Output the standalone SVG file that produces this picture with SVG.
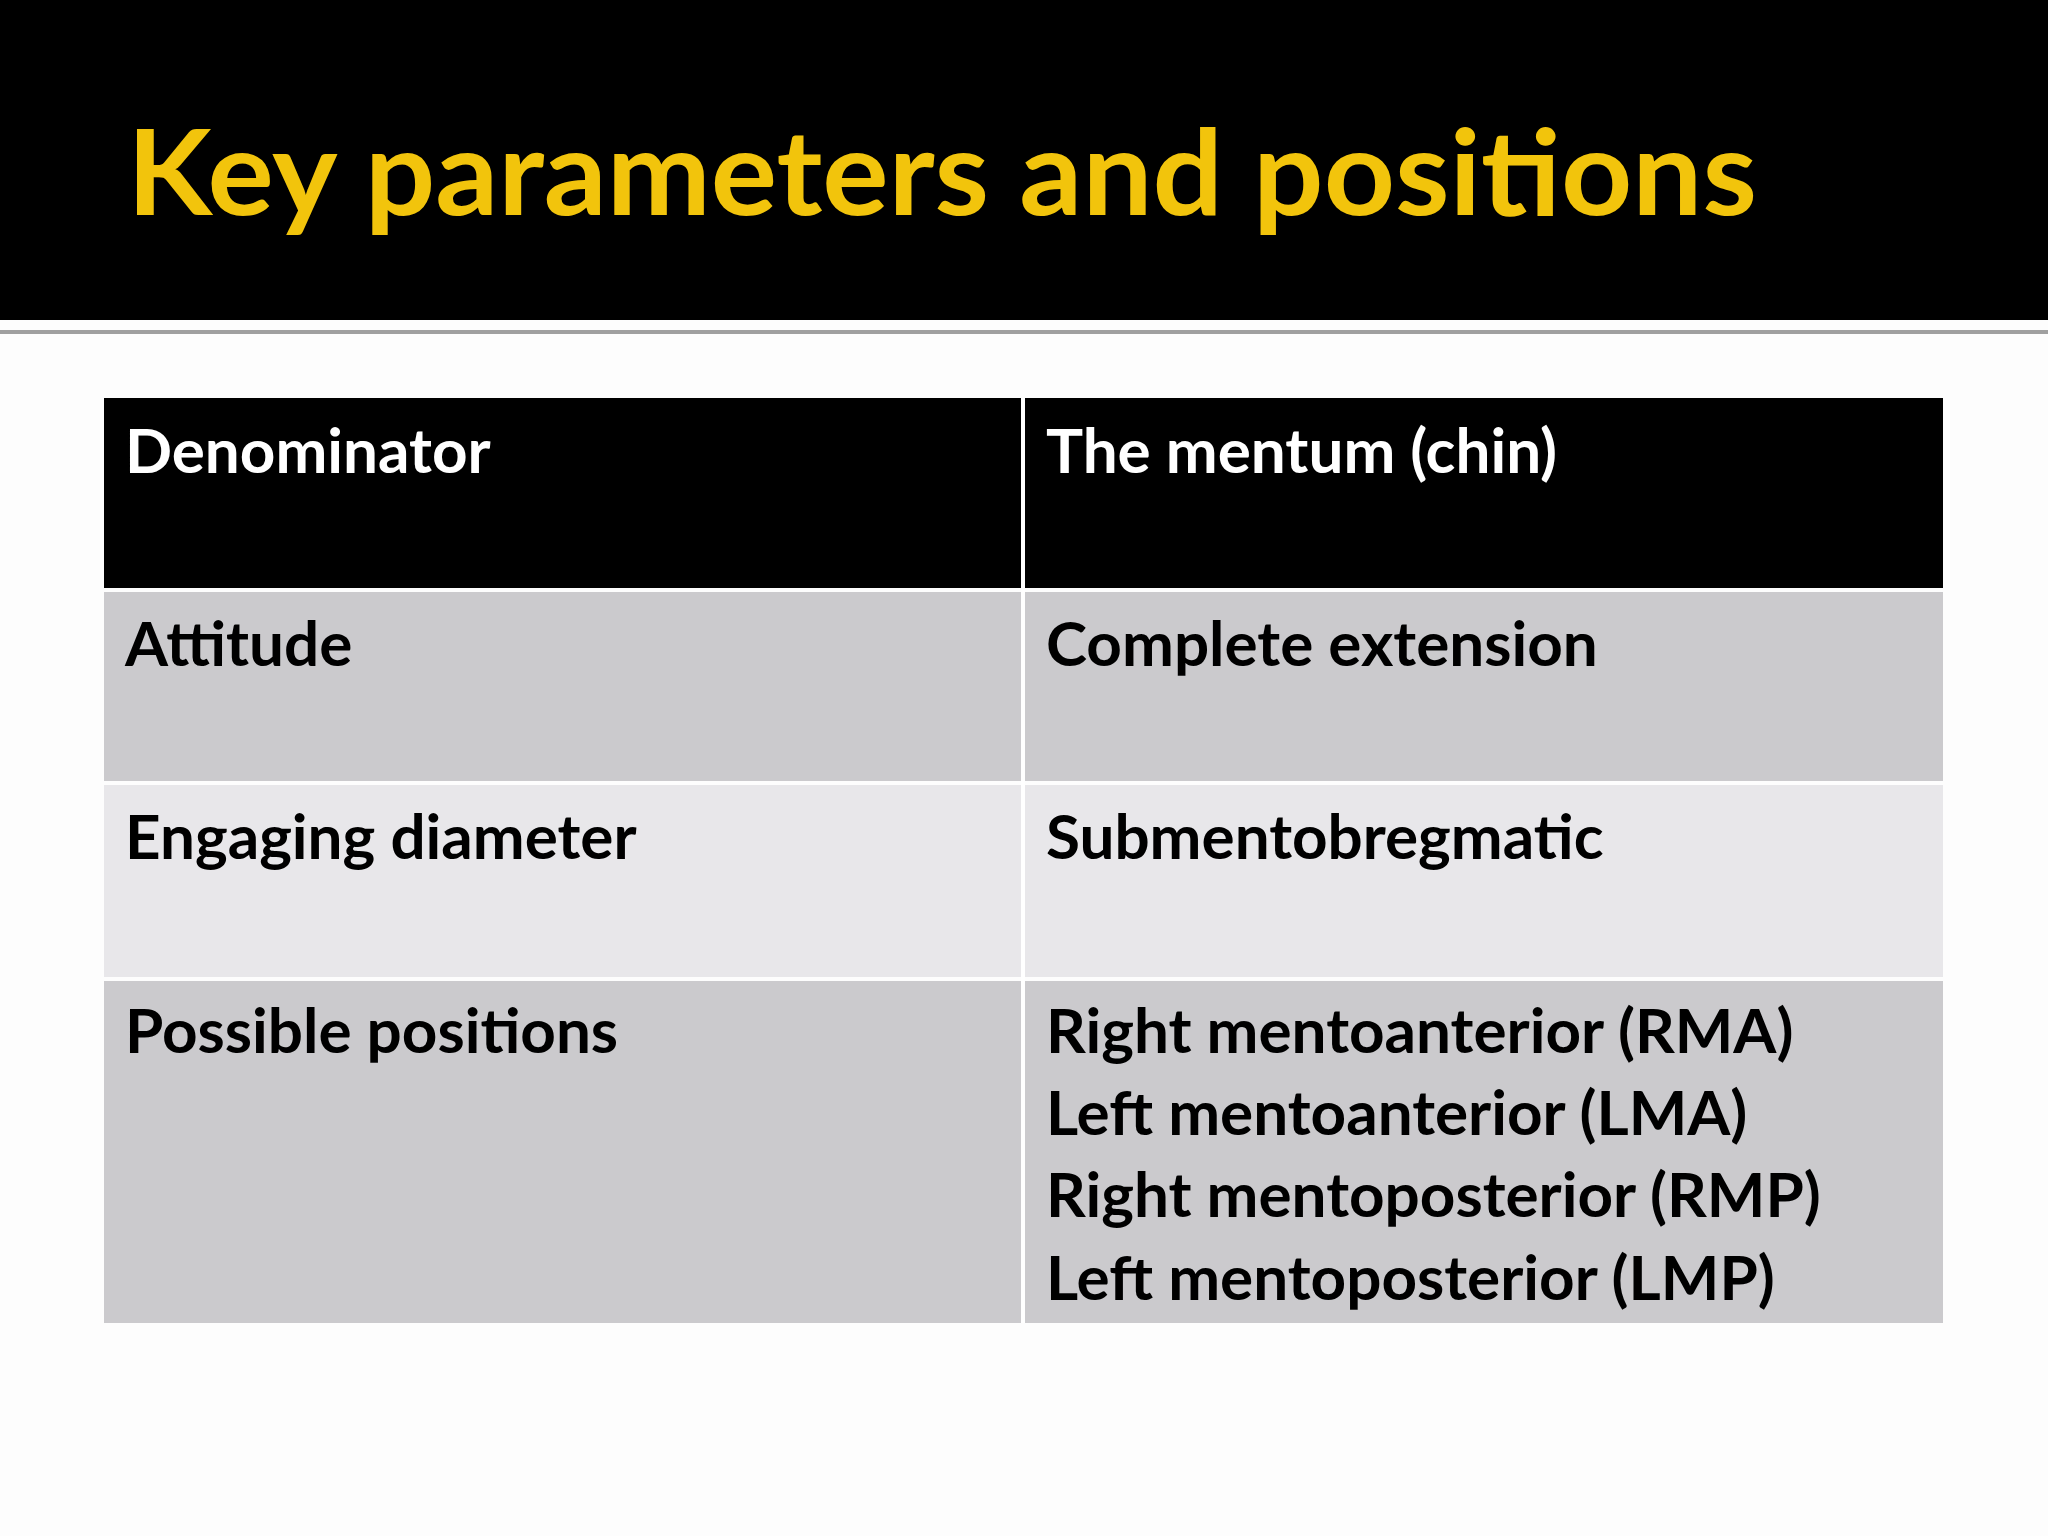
<svg xmlns="http://www.w3.org/2000/svg" width="2048" height="1536" viewBox="0 0 2048 1536">
<style>
.t{font-family:Lato,"Open Sans",sans-serif;font-weight:bold;font-size:62px}
.w{fill:#ffffff}.k{fill:#000000}
</style>
<rect width="2048" height="1536" fill="#fdfdfd"/>
<rect width="2048" height="320" fill="#000"/>
<rect y="330" width="2048" height="4" fill="#a0a0a0"/>
<text x="127" y="215" font-family="Lato,'Open Sans',sans-serif" font-weight="bold" font-size="118" fill="#f2c40c" textLength="1630" lengthAdjust="spacingAndGlyphs">Key parameters and positions</text>
<g id="table">
<rect x="104" y="398" width="1839" height="190" fill="#000"/>
<rect x="104" y="592" width="1839" height="189" fill="#cbcacd"/>
<rect x="104" y="785" width="1839" height="192" fill="#e8e7ea"/>
<rect x="104" y="981" width="1839" height="342" fill="#cbcacd"/>
<rect x="1021" y="398" width="4" height="925" fill="#fff"/>
</g>
<g id="cells">
<text class="t w" x="125" y="473">Denominator</text>
<text class="t w" x="1046" y="473">The mentum (chin)</text>
<text class="t k" x="125" y="666">Attitude</text>
<text class="t k" x="1046" y="666">Complete extension</text>
<text class="t k" x="125" y="859">Engaging diameter</text>
<text class="t k" x="1046" y="859">Submentobregmatic</text>
<text class="t k" x="125" y="1053">Possible positions</text>
<text class="t k" x="1046" y="1053">Right mentoanterior (RMA)</text>
<text class="t k" x="1046" y="1135">Left mentoanterior (LMA)</text>
<text class="t k" x="1046" y="1217">Right mentoposterior (RMP)</text>
<text class="t k" x="1046" y="1300">Left mentoposterior (LMP)</text>
</g>
</svg>
